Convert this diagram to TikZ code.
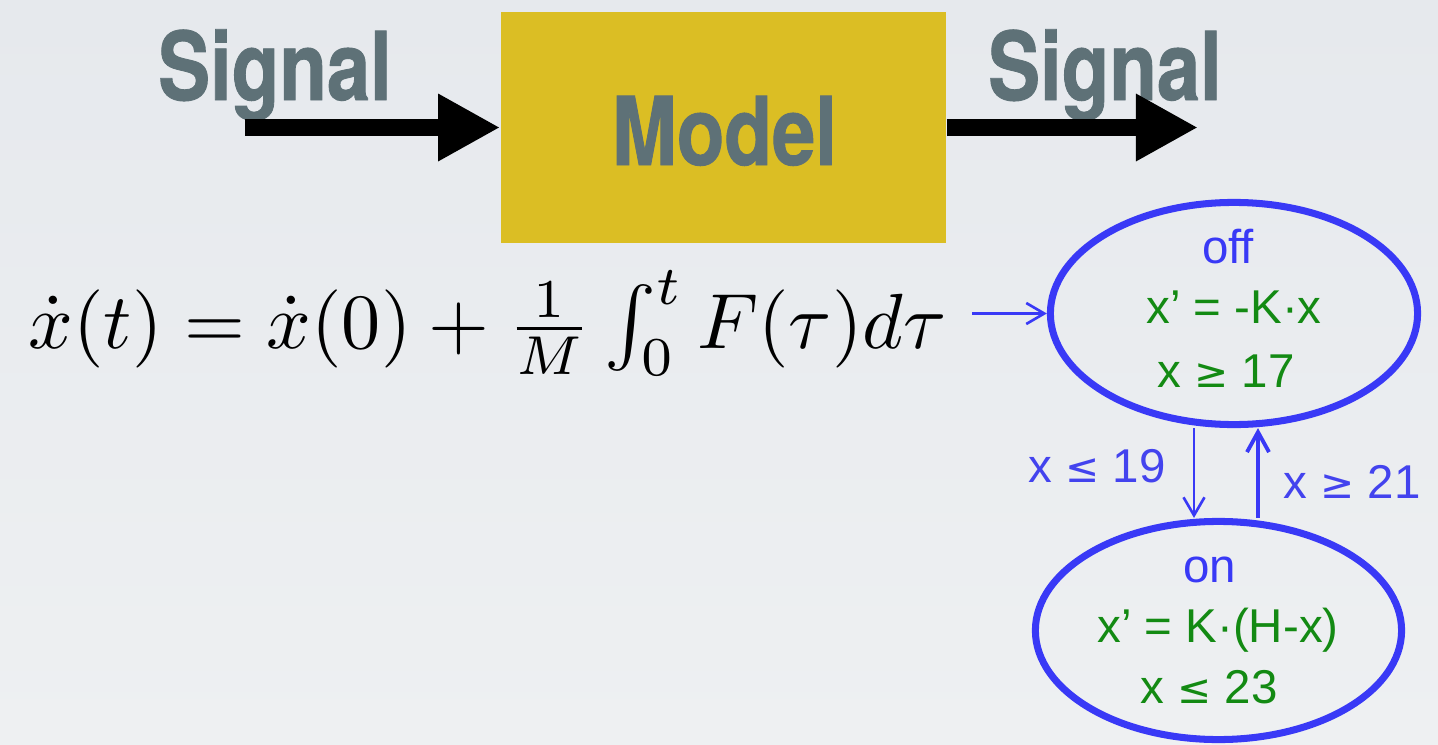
\documentclass[tikz,border=0pt]{standalone}
\usepackage{amsmath,amssymb}
\usepackage{fontspec}
\usetikzlibrary{arrows.meta, positioning, shapes.geometric}
\newfontfamily\headfont[FakeStretch=0.82,FakeBold=0.9]{TeX Gyre Heros}
\newfontfamily\arialfont{Liberation Sans}
\newfontfamily\relfont[Scale=0.86]{DejaVu Sans}
\newcommand{\relge}{{\relfont ≥}}
\newcommand{\relle}{{\relfont ≤}}
\definecolor{slatehead}{HTML}{5E7177}
\definecolor{goldbox}{HTML}{DBBE24}
\definecolor{modeblue}{HTML}{3939F6}
\definecolor{guardblue}{HTML}{4343EE}
\definecolor{flowgreen}{HTML}{138A13}
\definecolor{bgtop}{HTML}{E6E9ED}
\definecolor{bgbottom}{HTML}{EEF0F2}
\tikzset{
  bigflow/.style={-{Triangle[length=6.2mm,width=6.3mm]}, line width=4.6pt, draw=black},
  modeflow/.style={-{Straight Barb[length=1.8mm,width=2.1mm]}, line width=0.75pt, draw=modeblue},
  headtext/.style={font=\headfont\bfseries\fontsize{27}{30}\selectfont, text=slatehead,
                   inner sep=0pt, anchor=base},
  modelbox/.style={fill=goldbox, minimum width=4.45cm, minimum height=2.31cm, inner sep=0pt},
  modeshape/.style={ellipse, draw=modeblue, line width=2pt, inner sep=0pt},
  modetxt/.style={font=\arialfont\fontsize{13.5}{16}\selectfont, inner sep=0pt, anchor=base},
  guardtxt/.style={font=\arialfont\fontsize{13.5}{16}\selectfont, text=guardblue,
                   inner sep=0pt, anchor=base},
}
\begin{document}
\begin{tikzpicture}[x=0.01cm, y=-0.01cm]

% ---- background ----
\shade[top color=bgtop, bottom color=bgbottom] (0,0) rectangle (1438,745);
\useasboundingbox (0,0) rectangle (1438,745);

% ---- signal -> model -> signal ----
\node[modelbox] (model) at (723.5,127.5) {};
\node[headtext] (modelname) at (724.5,165) {Model};
\node[headtext] (sigin) at (275,100) {Signal};
\node[headtext] (sigout) at (1105,100) {Signal};
\coordinate (inend) at (245,127.5);
\coordinate (outend) at (1198,127.5);
\draw[bigflow] (inend) -- (model.west);
\draw[bigflow] (model.east) -- (outend);

% ---- integral equation ----
\node[inner sep=0pt, anchor=base west] (eqn) at (28,348)
   {\resizebox{9.17cm}{!}{$\dot{x}(t)=\dot{x}(0)+\frac{1}{M}\int_0^t F(\tau)d\tau$}};

% ---- hybrid automaton ----
\node[modeshape, minimum width=3.67cm, minimum height=2.22cm] (off) at (1234,313.5) {};
\node[modeshape, minimum width=3.66cm, minimum height=2.18cm] (on) at (1218.5,630.5) {};

\node[modetxt, text=modeblue] (offname) at (1228,263) {off};
\node[modetxt, text=flowgreen] (offflow) at (1234,323) {x’ = -K·x};
\node[modetxt, text=flowgreen] (offinv) at (1226,387) {x \relge{} 17};
\node[modetxt, text=modeblue] (onname) at (1210,582) {on};
\node[modetxt, text=flowgreen] (onflow) at (1218,642) {x’ = K·(H-x)};
\node[modetxt, text=flowgreen] (oninv) at (1209,703) {x \relle{} 23};

\coordinate (init) at (972,313.5);
\draw[modeflow] (init) -- (off.west);
\draw[modeflow] (off.south -| 1194,0) -- (on.north -| 1194,0);
\draw[modeflow, line width=1.1pt, -{Straight Barb[length=2mm,width=2.2mm]}]
   (on.north -| 1258,0) -- (off.south -| 1258,0);
\node[guardtxt] (gdown) at (1097,482) {x \relle{} 19};
\node[guardtxt] (gup) at (1352,498) {x \relge{} 21};

\end{tikzpicture}
\end{document}
